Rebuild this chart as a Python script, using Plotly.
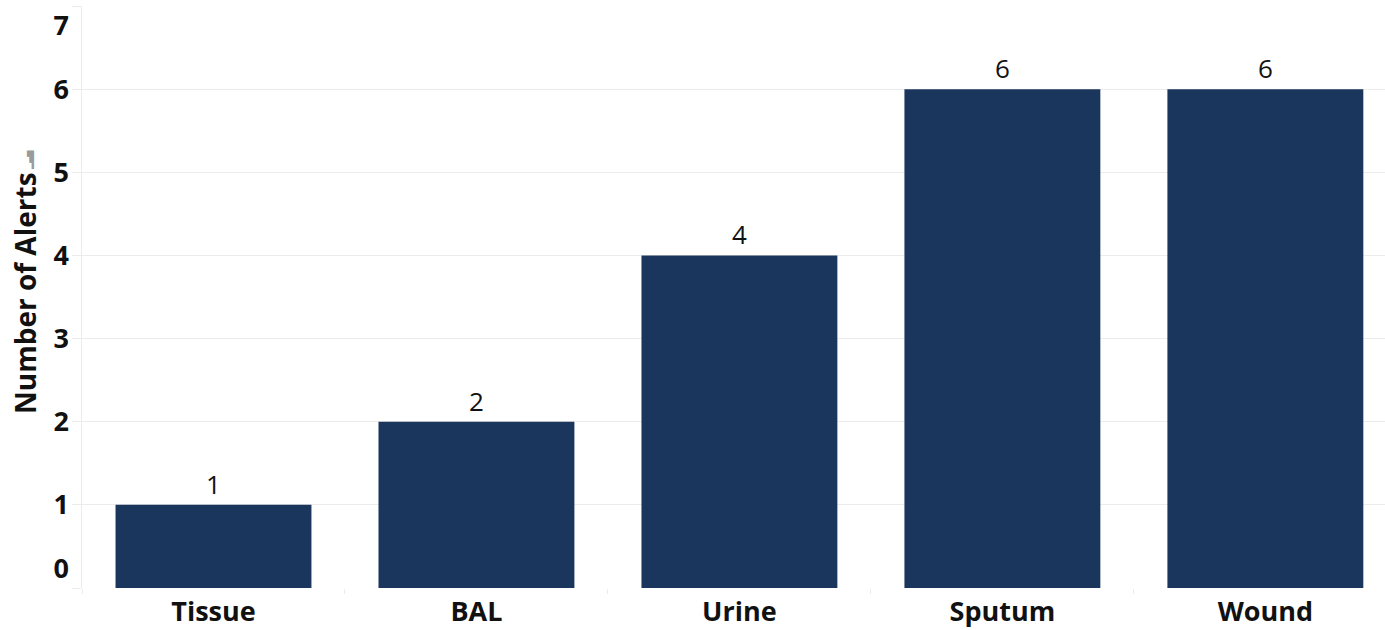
import plotly.graph_objects as go

categories = ["Tissue", "BAL", "Urine", "Sputum", "Wound"]
alerts = [1, 2, 4, 6, 6]
y_tick_labels = ["0", "1", "2", "3", "4", "5", "6", "7"]
y_title = "Number of Alerts"

BAR_COLOR = "#1b365d"
GRID = "#ececec"
FONT = "Open Sans"
FS = 27

# tick label positions (Tableau nudges the end labels inward)
label_pos = [float(v) for v in range(len(y_tick_labels))]
label_pos[0] = 0.24
label_pos[-1] = 6.77

fig = go.Figure()
fig.add_trace(go.Bar(
    x=categories, y=alerts,
    marker=dict(color=BAR_COLOR, line=dict(width=0)),
    text=[str(v) for v in alerts],
    textposition="outside",
    textfont=dict(family=FONT, size=26, color="#111111"),
    cliponaxis=False,
    hoverinfo="x+y",
))
fig.add_trace(go.Scatter(
    x=categories, y=alerts, yaxis="y2", mode="markers",
    marker=dict(opacity=0), hoverinfo="skip", showlegend=False,
))

fig.add_annotation(
    text=y_title, textangle=-90,
    xref="paper", yref="paper", x=0, y=0.5,
    xanchor="center", yanchor="middle",
    xshift=-57, yshift=4, showarrow=False,
    font=dict(family=FONT, size=28, color="#111111", weight="bold"),
)
# small sort indicator next to the axis title
fig.add_annotation(
    text="\u2582\u2584\u2586", textangle=-90,
    xref="paper", yref="paper", x=0, y=0.5,
    xanchor="center", yanchor="middle",
    xshift=-53, yshift=137, showarrow=False,
    font=dict(family="DejaVu Sans", size=8, color="#9a9a9a"),
)

fig.update_layout(
    width=1385, height=630,
    margin=dict(l=82, r=0, t=6, b=42, autoexpand=False),
    paper_bgcolor="white", plot_bgcolor="white",
    bargap=0.255,
    showlegend=False,
    font=dict(family=FONT, color="#111111"),
    xaxis=dict(
        range=[-0.5, 4.455], automargin=False,
        tickfont=dict(family=FONT, size=FS, color="#111111", weight="bold"),
        showgrid=False, zeroline=False,
        showline=False,
        ticks="outside", tickson="boundaries", ticklen=5, tickcolor=GRID,
        ticklabelstandoff=5,
        fixedrange=True,
    ),
    yaxis=dict(
        range=[0, 7], automargin=False,
        tickvals=list(range(len(y_tick_labels))),
        showticklabels=False,
        showgrid=True, gridcolor=GRID, gridwidth=1,
        zeroline=False,
        showline=True, linecolor=GRID, linewidth=1,
        ticks="outside", ticklen=9, tickcolor=GRID,
        fixedrange=True,
    ),
    yaxis2=dict(
        overlaying="y", side="left", range=[0, 7], automargin=False,
        tickvals=label_pos, ticktext=y_tick_labels,
        tickfont=dict(family=FONT, size=FS, color="#111111", weight="bold"),
        showgrid=False, zeroline=False, showline=False,
        ticks="", ticklabelstandoff=12,
        fixedrange=True,
    ),
)

fig.write_html("out.html", config={"displayModeBar": False},
               post_script="document.body.style.margin='0';")
